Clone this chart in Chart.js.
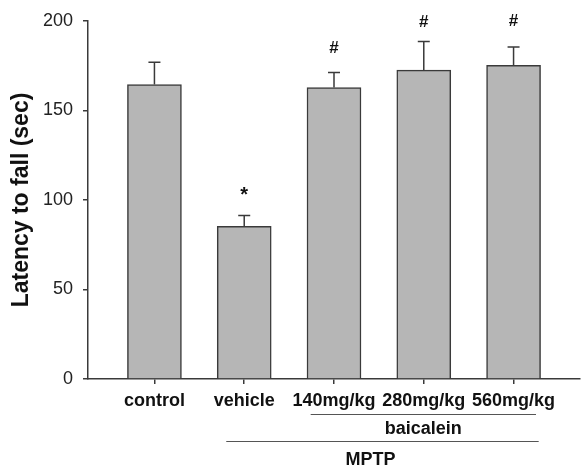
<!DOCTYPE html>
<html>
<head>
<meta charset="utf-8">
<script src="https://cdn.jsdelivr.net/npm/chart.js@4"></script>
<style>
  body { margin: 0; background: #fff; }
  #wrap { width: 582px; height: 467px; }
</style>
</head>
<body>
<div id="wrap"><canvas id="barChart" width="582" height="467"></canvas></div>
<script>
// Data
const categories = ["control", "vehicle", "140mg/kg", "280mg/kg", "560mg/kg"];
const latency = [164.5, 85.3, 162.8, 172.6, 175.2];
const sem = [12.4, 6.0, 8.4, 15.9, 10.3];
const sigMarks = ["", "*", "#", "#", "#"];
const sigY = [null, 104, 184.7, 199.3, 199.8];
const yTicks = [0, 50, 100, 150, 200];

// group brackets under the x labels (from / to category index)
const groupNames = ["baicalein", "MPTP"];
const groupFrom = [1.74, 0.8];
const groupTo = [4.25, 4.28];

const FONT = "'Liberation Sans', Arial, Helvetica, sans-serif";
const axisColor = "#3a3a3a";

// error bars (upper half only) + significance marks
const errorBars = {
  id: "errorBars",
  afterDatasetsDraw(chart) {
    const { ctx, scales: { x, y } } = chart;
    ctx.save();
    ctx.strokeStyle = axisColor;
    ctx.lineWidth = 1.5;
    latency.forEach((v, i) => {
      const px = x.getPixelForValue(i);
      const yBar = y.getPixelForValue(v);
      const yTop = y.getPixelForValue(v + sem[i]);
      ctx.beginPath();
      ctx.moveTo(px, yBar);
      ctx.lineTo(px, yTop);
      ctx.moveTo(px - 6, yTop);
      ctx.lineTo(px + 6, yTop);
      ctx.stroke();
    });
    ctx.fillStyle = "#111";
    ctx.textAlign = "center";
    ctx.textBaseline = "middle";
    sigMarks.forEach((m, i) => {
      if (!m) return;
      ctx.font = (m === "*" ? "bold 20px " : "bold 17px ") + FONT;
      ctx.fillText(m, x.getPixelForValue(i), y.getPixelForValue(sigY[i]) + (m === "*" ? 3 : 0));
    });
    ctx.restore();
  }
};

const groupLabels = {
  id: "groupLabels",
  afterDraw(chart) {
    const { ctx, scales: { x }, chartArea } = chart;
    const base = chartArea.bottom;
    ctx.save();
    ctx.strokeStyle = "#555";
    ctx.lineWidth = 1;
    ctx.fillStyle = "#111";
    ctx.font = "bold 18px " + FONT;
    ctx.textAlign = "center";
    ctx.textBaseline = "middle";
    groupNames.forEach((name, g) => {
      const x0 = x.getPixelForValue(groupFrom[g]);
      const x1 = x.getPixelForValue(groupTo[g]);
      const lineY = base + 35 + g * 27;
      ctx.beginPath();
      ctx.moveTo(x0, lineY + 0.5);
      ctx.lineTo(x1, lineY + 0.5);
      ctx.stroke();
      ctx.fillText(name, (x0 + x1) / 2 - g * 12, lineY + 15 + g * 4);
    });
    ctx.restore();
  }
};

const chart = new Chart(document.getElementById("barChart").getContext("2d"), {
  type: "bar",
  data: {
    datasets: [{
      data: latency.map((v, i) => ({ x: i, y: v })),
      backgroundColor: "#b6b6b6",
      borderColor: axisColor,
      borderWidth: 1.5,
      barThickness: 54
    }]
  },
  options: {
    responsive: false,
    animation: false,
    layout: { padding: { top: 21, right: 2, left: 0, bottom: 0 } },
    plugins: { legend: { display: false }, tooltip: { enabled: false } },
    scales: {
      x: {
        type: "linear",
        offset: false,
        min: -0.74,
        max: 4.74,
        afterBuildTicks: (s) => { s.ticks = categories.map((c, i) => ({ value: i })); },
        afterFit: (s) => { s.height = 88; },
        grid: { display: true, offset: false, drawOnChartArea: false, tickLength: 5, tickColor: axisColor, lineWidth: 1.5 },
        border: { color: axisColor, width: 1.5 },
        ticks: {
          autoSkip: false,
          maxRotation: 0,
          padding: 6,
          color: "#111",
          font: { family: FONT, size: 18, weight: "bold" },
          callback: (v) => categories[v]
        }
      },
      y: {
        min: 0,
        max: 200,
        afterBuildTicks: (s) => { s.ticks = yTicks.map(v => ({ value: v })); },
        afterFit: (s) => { s.width = 88; },
        grid: { display: true, drawOnChartArea: false, tickLength: 5, tickColor: axisColor, lineWidth: 1.5 },
        border: { color: axisColor, width: 1.5 },
        ticks: {
          padding: 10,
          color: "#222",
          font: { family: FONT, size: 18 }
        },
        title: {
          display: true,
          text: "Latency to fall (sec)",
          color: "#111",
          padding: { top: 8, bottom: 0 },
          font: { family: FONT, size: 23, weight: "bold" }
        }
      }
    }
  },
  plugins: [errorBars, groupLabels]
});
</script>
</body>
</html>
